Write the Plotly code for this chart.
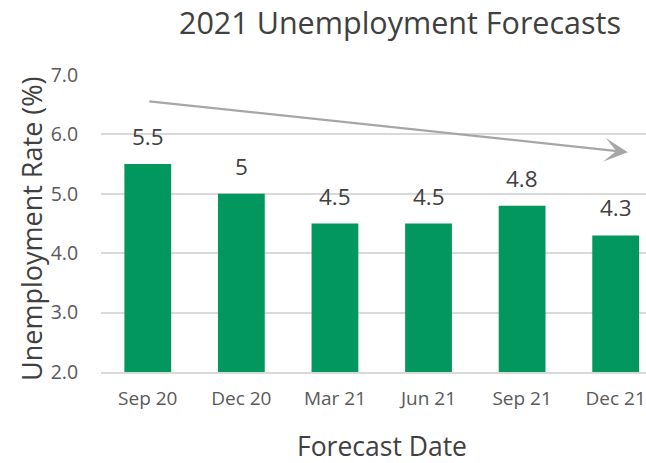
import plotly.graph_objects as go

# Forecasts of the 2021 unemployment rate, by date the forecast was made
forecast_dates = ["Sep 20", "Dec 20", "Mar 21", "Jun 21", "Sep 21", "Dec 21"]
unemployment_rate = [5.5, 5.0, 4.5, 4.5, 4.8, 4.3]
y_ticks = [2.0, 3.0, 4.0, 5.0, 6.0, 7.0]

# Trend arrow endpoints (category index, rate)
trend_start = (0, 6.56)
trend_end = (5.13, 5.70)

FONT = "'Open Sans', sans-serif"
GREEN = "#01975f"
GRID = "#d9d9d9"
TEXT = "#404040"

# Plot-area box in pixels
W, H = 646, 463
L, R, T, B = 101, 0, 75, 91

fig = go.Figure()
fig.add_trace(go.Bar(
    x=list(range(len(forecast_dates))),
    y=unemployment_rate,
    width=0.5,
    marker=dict(color=GREEN, line=dict(width=0)),
    hoverinfo="skip",
))

annotations = []
for i, v in enumerate(unemployment_rate):
    annotations.append(dict(
        x=i, y=v, xref="x", yref="y", text=f"{v:g}", showarrow=False,
        yanchor="bottom", yshift=10,
        font=dict(family=FONT, size=22.5, color=TEXT),
    ))

# Downward trend arrow
annotations.append(dict(
    x=trend_end[0], y=trend_end[1], ax=trend_start[0], ay=trend_start[1],
    xref="x", yref="y", axref="x", ayref="y", text="",
    showarrow=True, arrowhead=3, arrowsize=1.7, arrowwidth=2.3,
    arrowcolor="#a6a6a6", standoff=0,
))


def px_to_paper(px, py):
    return (px - L) / (W - L - R), (H - B - py) / (H - T - B)


# Axis titles
fx, fy = px_to_paper(382, 446)
annotations.append(dict(
    x=fx, y=fy, xref="paper", yref="paper", text="Forecast Date",
    showarrow=False, font=dict(family=FONT, size=26.5, color=TEXT),
    xanchor="center", yanchor="middle",
))
ux, uy = px_to_paper(31, 229)
annotations.append(dict(
    x=ux, y=uy, xref="paper", yref="paper", text="Unemployment Rate (%)",
    showarrow=False, textangle=-90,
    font=dict(family=FONT, size=27, color=TEXT),
    xanchor="center", yanchor="middle",
))

fig.update_layout(
    width=W, height=H,
    margin=dict(l=L, r=R, t=T, b=B),
    paper_bgcolor="white", plot_bgcolor="white",
    showlegend=False,
    title=dict(
        text="2021 Unemployment Forecasts",
        x=400 / W, xanchor="center", y=1 - 23 / H, yanchor="middle",
        font=dict(family=FONT, size=30.5, color=TEXT),
    ),
    annotations=annotations,
    xaxis=dict(
        tickmode="array",
        tickvals=list(range(len(forecast_dates))),
        ticktext=forecast_dates,
        range=[-0.5, 5.324],
        showgrid=False, zeroline=False,
        showline=True, linecolor=GRID, linewidth=1.5,
        ticks="outside", ticklen=8, tickcolor="rgba(0,0,0,0)",
        ticklabeloverflow="allow",
        tickfont=dict(family=FONT, size=19, color="#595959"),
    ),
    yaxis=dict(
        range=[2, 7],
        tickmode="array", tickvals=y_ticks,
        ticktext=[f"{t:.1f}" for t in y_ticks],
        showgrid=True, gridcolor=GRID, gridwidth=1.5,
        zeroline=False, showline=False,
        ticks="outside", ticklen=18, tickcolor="rgba(0,0,0,0)",
        tickfont=dict(family=FONT, size=19.5, color="#595959"),
    ),
)

fig.write_html("out.html")
